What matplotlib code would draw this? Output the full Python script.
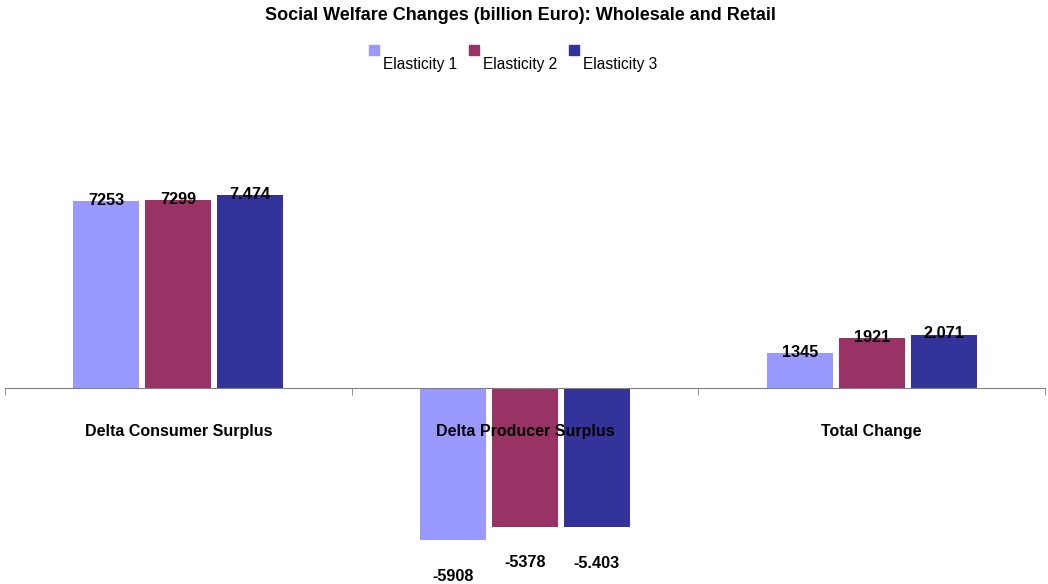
import matplotlib.pyplot as plt
import numpy as np
from matplotlib.patches import Rectangle

plt.rcParams["font.family"] = ["Liberation Sans", "DejaVu Sans"]

categories = ["Delta Consumer Surplus", "Delta Producer Surplus", "Total Change"]
series_names = ["Elasticity 1", "Elasticity 2", "Elasticity 3"]
elasticity_1 = [7.253, -5.908, 1.345]
elasticity_2 = [7.299, -5.378, 1.921]
elasticity_3 = [7.474, -5.403, 2.071]
# labels as printed on the bars
labels_1 = ["7253", "-5908", "1345"]
labels_2 = ["7299", "-5378", "1921"]
labels_3 = ["7.474", "-5.403", "2.071"]

colors = ["#9999FF", "#993366", "#333399"]

W, H = 1048, 584
fig = plt.figure(figsize=(W / 100, H / 100), dpi=100)

# plot area: x from 5 to 1045 px, y from 100 to 575 px (top-down), zero line at 388
top_px, bot_px, zero_px = 100, 575, 388
scale = 25.78  # px per unit
ax = fig.add_axes([5 / W, 1 - bot_px / H, 1040 / W, (bot_px - top_px) / H])
ax.set_xlim(-0.5, 2.5)
ax.set_ylim(-(bot_px - zero_px) / scale, (zero_px - top_px) / scale)

x = np.arange(len(categories))
step, width = 0.2075, 0.19
all_vals = [elasticity_1, elasticity_2, elasticity_3]
all_labels = [labels_1, labels_2, labels_3]
for i, (vals, labs) in enumerate(zip(all_vals, all_labels)):
    pos = x + (i - 1) * step
    ax.bar(pos, vals, width=width, color=colors[i], zorder=2)
    for px_, v, lab in zip(pos, vals, labs):
        dy = 0.5 if v >= 0 else -26
        ax.annotate(lab, (px_, v), xytext=(0, dy), textcoords="offset points",
                    ha="center", va="center", fontsize=11.7, fontweight="bold",
                    zorder=6)

for s in ["top", "right", "left"]:
    ax.spines[s].set_visible(False)
ax.spines["bottom"].set_position(("data", 0))
ax.spines["bottom"].set_color("#808080")
ax.spines["bottom"].set_zorder(3)
ax.set_yticks([])
ax.set_xticks(x)
ax.set_xticklabels(categories, fontsize=11.5, fontweight="bold")
ax.tick_params(axis="x", which="major", length=0, pad=26)
ax.set_xticks([-0.5, 0.5, 1.5, 2.5], minor=True)
ax.tick_params(axis="x", which="minor", length=5, direction="out", color="#808080")
ax.xaxis.set_zorder(5)

fig.text(520 / W, 1 - 15 / H, "Social Welfare Changes (billion Euro): Wholesale and Retail",
         ha="center", va="center", fontsize=13, fontweight="bold")

# legend
for i, name in enumerate(series_names):
    x0 = 369 + i * 100
    fig.patches.append(Rectangle((x0 / W, 1 - 55 / H), 10 / W, 10 / H,
                                 transform=fig.transFigure, color=colors[i]))
    fig.text((x0 + 14) / W, 1 - 65 / H, name, ha="left", va="center", fontsize=11.2)

fig.savefig("out.png", dpi=100)
